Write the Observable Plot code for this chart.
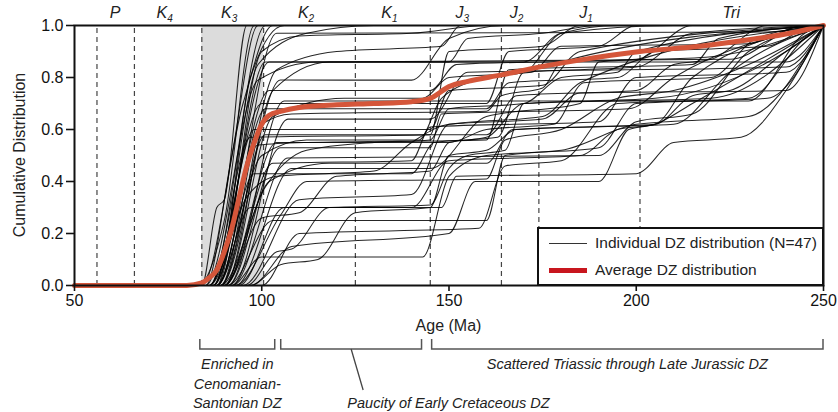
<!DOCTYPE html>
<html><head><meta charset="utf-8">
<script src="https://cdn.jsdelivr.net/npm/d3@7"></script>
<script src="https://cdn.jsdelivr.net/npm/@observablehq/plot@0.6"></script>
<style>
body{margin:0;background:#fff;}
#wrap{position:relative;width:838px;height:412px;font-family:"Liberation Sans",Arial,sans-serif;color:#222;}
#legend{position:absolute;left:537px;top:227px;width:287px;height:59px;box-sizing:border-box;border:2px solid #111;background:#fff;}
.lg-row{position:absolute;left:0;height:20px;width:100%;}
.lg-key{position:absolute;left:10px;width:38px;}
.lg-txt{position:absolute;left:56px;top:0;font-size:15.5px;line-height:20px;white-space:nowrap;color:#222;}
</style>
</head><body>
<div id="wrap"></div>
<script>
// ---------- data ----------
const ageDomain = [50, 250];
const xTicks = [50, 100, 150, 200, 250];
const yTicks = [0, 0.2, 0.4, 0.6, 0.8, 1.0];
const periodEdges = [56, 66, 84, 100.5, 125, 145, 164, 174, 201, 250];
const periodNames = ["P", "K", "K", "K", "K", "J", "J", "J", "Tri"];
const periodSubs  = ["", "4", "3", "2", "1", "3", "2", "1", ""];
const enrichedRange = [84, 100.5];

const averageDZ = [[50,0],[80,0],[84,0.01],[86,0.03],[88,0.06],[90,0.13],[92,0.22],[94,0.34],[96,0.46],[98,0.55],[100,0.62],[102,0.655],[105,0.67],[110,0.685],[120,0.695],[130,0.70],[140,0.707],[145,0.72],[150,0.765],[155,0.785],[164,0.81],[174,0.84],[184,0.865],[201,0.90],[217,0.92],[230,0.945],[241,0.97],[250,1]];

const individualDZ = [
  [[84,0],[88,0.3],[90,0.33],[96,1]],
  [[83,0],[90,0.25],[98,1]],
  [[85,0],[92,0.5],[99,1]],
  [[86,0],[101,1]],
  [[84,0],[95,0.7],[103,1]],
  [[88,0],[97,0.8],[106,1]],
  [[87,0],[99,0.85],[112,0.97],[130,1]],
  [[88,0],[100,0.9],[110,0.96],[140,0.97],[160,1]],
  [[86,0],[102,0.86],[150,0.86],[155,0.95],[175,0.97],[190,1]],
  [[87,0],[101,0.86],[170,0.86],[180,0.97],[210,1]],
  [[89,0],[104,0.83],[120,0.9],[148,0.92],[153,1]],
  [[85,0],[99,0.79],[115,0.86],[240,0.86],[250,1]],
  [[90,0],[103,0.75],[118,0.86],[225,0.87],[245,1]],
  [[88,0],[104,0.97],[235,0.975],[250,1]],
  [[86,0],[100,0.7],[160,0.7],[166,0.9],[190,0.92],[200,1]],
  [[87,0],[102,0.75],[145,0.75],[152,0.85],[200,0.87],[215,1]],
  [[89,0],[105,0.79],[140,0.79],[150,0.95],[165,1]],
  [[90,0],[103,0.65],[122,0.72],[143,0.72],[150,0.8],[172,0.82],[180,0.92],[230,0.93],[245,1]],
  [[88,0],[101,0.68],[160,0.68],[166,0.78],[195,0.8],[205,0.9],[235,0.92],[248,1]],
  [[91,0],[106,0.71],[230,0.71],[245,0.97],[250,1]],
  [[92,0],[107,0.64],[145,0.64],[155,0.82],[240,0.84],[250,1]],
  [[87,0],[98,0.6],[145,0.6],[150,0.75],[175,0.77],[185,0.9],[250,1]],
  [[89,0],[101,0.58],[160,0.58],[168,0.73],[200,0.75],[210,0.85],[220,0.87],[235,1]],
  [[90,0],[104,0.55],[150,0.55],[160,0.6],[178,0.62],[186,0.78],[220,0.8],[232,0.95],[250,1]],
  [[91,0],[105,0.53],[145,0.53],[148,0.66],[198,0.68],[210,0.8],[250,1]],
  [[88,0],[100,0.5],[112,0.56],[142,0.56],[148,0.72],[160,0.8],[170,0.82],[180,0.97],[195,1]],
  [[92,0],[107,0.49],[190,0.5],[200,0.63],[215,0.66],[230,0.9],[250,1]],
  [[88,0],[98,0.43],[140,0.43],[146,0.55],[163,0.57],[170,0.82],[200,0.84],[215,0.97],[250,1]],
  [[90,0],[102,0.4],[118,0.47],[160,0.47],[167,0.6],[205,0.62],[215,0.73],[225,0.75],[240,0.9],[250,1]],
  [[86,0],[96,0.34],[104,0.42],[130,0.44],[140,0.55],[150,0.62],[175,0.64],[185,0.74],[240,0.75],[250,1]],
  [[93,0],[108,0.45],[145,0.45],[160,0.65],[185,0.7],[190,0.86],[220,0.88],[250,1]],
  [[89,0],[101,0.38],[112,0.52],[130,0.55],[145,0.56],[150,0.68],[170,0.7],[180,0.8],[195,0.82],[200,0.9],[250,1]],
  [[88,0],[97,0.3],[140,0.3],[150,0.48],[185,0.5],[195,0.6],[205,0.62],[215,0.8],[250,1]],
  [[90,0],[100,0.26],[110,0.28],[120,0.42],[145,0.44],[150,0.55],[160,0.57],[170,0.7],[205,0.72],[240,0.9],[250,1]],
  [[94,0],[106,0.3],[148,0.3],[152,0.42],[200,0.43],[210,0.55],[228,0.57],[240,0.75],[250,1]],
  [[91,0],[103,0.25],[160,0.25],[165,0.5],[190,0.53],[200,0.7],[235,0.72],[250,1]],
  [[93,0],[105,0.27],[112,0.4],[160,0.41],[165,0.56],[180,0.6],[195,0.72],[210,0.75],[230,0.85],[250,1]],
  [[95,0],[110,0.33],[140,0.35],[150,0.62],[175,0.65],[185,0.78],[250,1]],
  [[92,0],[100,0.11],[143,0.11],[150,0.42],[160,0.5],[180,0.52],[200,0.62],[230,0.65],[250,1]],
  [[96,0],[104,0.13],[108,0.14],[118,0.3],[145,0.31],[150,0.45],[155,0.5],[165,0.52],[170,0.7],[220,0.72],[250,1]],
  [[97,0],[108,0.15],[150,0.2],[157,0.4],[190,0.4],[198,0.6],[205,0.62],[215,0.7],[250,1]],
  [[100,0],[110,0.2],[158,0.22],[165,0.46],[180,0.48],[195,0.7],[230,0.72],[245,0.95],[250,1]],
  [[97,0],[105,0.08],[115,0.1],[125,0.28],[145,0.3],[150,0.5],[160,0.52],[168,0.6],[210,0.62],[225,0.82],[250,1]],
  [[89,0],[100,0.62],[108,0.66],[160,0.67],[164,0.73],[175,0.76],[180,0.86],[250,1]],
  [[87,0],[99,0.54],[112,0.55],[160,0.56],[166,0.83],[215,0.85],[222,0.95],[250,1]],
  [[90,0],[103,0.47],[140,0.48],[145,0.61],[190,0.63],[200,0.8],[240,0.82],[250,1]],
  [[86,0],[97,0.57],[145,0.58],[150,0.9],[175,0.92],[185,1]]
];

const bracketRanges = [[83.6, 103.6], [105.2, 142.8], [145.5, 250]];
const bracketNotes = [
  ["Enriched in", "Cenomanian-", "Santonian DZ"],
  ["Paucity of Early Cretaceous DZ"],
  ["Scattered Triassic through Late Jurassic DZ"]
];
const legendLabels = ["Individual DZ distribution (N=47)", "Average DZ distribution"];

// ---------- build ----------
const rows = individualDZ.flatMap((c, i) => {
  const pts = [[ageDomain[0], 0], ...c];
  if (pts[pts.length - 1][0] < ageDomain[1]) pts.push([ageDomain[1], 1]);
  return pts.map(([a, v]) => ({id: i, age: a, v}));
});
const avgRows = averageDZ.map(([a, v]) => ({age: a, v}));

const FONT = '"Liberation Sans", Arial, sans-serif';
const chart = Plot.plot({
  width: 838, height: 412,
  marginLeft: 74, marginRight: 15, marginTop: 25, marginBottom: 127,
  x: {domain: ageDomain},
  y: {domain: [0, 1]},
  style: {fontFamily: FONT, fontSize: "16px", color: "#111", background: "#fff", overflow: "visible"},
  marks: [
    Plot.rect([enrichedRange], {x1: d => d[0], x2: d => d[1], y1: 0, y2: 1, fill: "#dcdcdc"}),
    Plot.ruleX(periodEdges.slice(0, -1), {y1: 0, y2: 1, stroke: "#444", strokeWidth: 1.2, strokeDasharray: "5,4"}),
    Plot.line(rows, {x: "age", y: "v", z: "id", curve: "monotone-x", stroke: "#000", strokeWidth: 1.05, strokeOpacity: 0.85}),
    Plot.line(avgRows, {x: "age", y: "v", curve: "monotone-x", stroke: "#d5563a", strokeWidth: 5}),
    Plot.axisX({ticks: xTicks, tickSize: 6, tickPadding: 3, label: null, strokeWidth: 1.6, fontSize: 16}),
    Plot.axisY({ticks: yTicks, tickFormat: d3.format(".1f"), tickSize: 8, tickPadding: 3, label: null, strokeWidth: 1.6, fontSize: 16}),
    Plot.frame({stroke: "#111", strokeWidth: 2})
  ]
});
document.getElementById("wrap").appendChild(chart);

const xs = chart.scale("x");
const svg = d3.select(chart);
const g = svg.append("g").attr("font-family", FONT).attr("fill", "#222");

// period labels (top)
periodNames.forEach((name, i) => {
  const mid = (periodEdges[i] + periodEdges[i + 1]) / 2;
  const t = g.append("text").attr("x", xs.apply(mid) - (periodSubs[i] ? 3 : 0)).attr("y", 18)
    .attr("text-anchor", "middle").attr("font-style", "italic").attr("font-size", 16).text(name);
  if (periodSubs[i]) t.append("tspan").attr("dy", 4).attr("font-size", 10).text(periodSubs[i]);
});

// axis titles
g.append("text").attr("transform", "translate(25,155) rotate(-90)").attr("text-anchor", "middle")
  .attr("font-size", 16).text("Cumulative Distribution");
g.append("text").attr("x", xs.apply(150)).attr("y", 331).attr("text-anchor", "middle")
  .attr("font-size", 16).text("Age (Ma)");

// brackets and notes
bracketRanges.forEach(([a, b]) => {
  const x1 = xs.apply(a), x2 = xs.apply(b);
  g.append("path").attr("d", `M${x1},339V349H${x2}V339`).attr("fill", "none")
    .attr("stroke", "#555").attr("stroke-width", 1.5);
});
const c0 = (bracketRanges[0][0] + bracketRanges[0][1]) / 2;
bracketNotes[0].forEach((line, k) => {
  g.append("text").attr("x", xs.apply(c0)).attr("y", 369 + k * 19.5).attr("text-anchor", "middle")
    .attr("font-style", "italic").attr("font-size", 14.5).text(line);
});
const c1 = (bracketRanges[1][0] + bracketRanges[1][1]) / 2;
g.append("line").attr("x1", xs.apply(c1)).attr("y1", 349).attr("x2", xs.apply(c1) + 12).attr("y2", 390)
  .attr("stroke", "#444").attr("stroke-width", 1.3);
g.append("text").attr("x", xs.apply(150)).attr("y", 408).attr("text-anchor", "middle")
  .attr("font-style", "italic").attr("font-size", 14.5).text(bracketNotes[1][0]);
const c2 = (bracketRanges[2][0] + bracketRanges[2][1]) / 2;
g.append("text").attr("x", xs.apply(c2)).attr("y", 369).attr("text-anchor", "middle")
  .attr("font-style", "italic").attr("font-size", 14.5).text(bracketNotes[2][0]);

// legend
const lg = document.createElement("div");
lg.id = "legend";
lg.innerHTML = `
  <div class="lg-row" style="top:4px"><div class="lg-key" style="top:10px;height:0;border-top:1px solid #333"></div><div class="lg-txt">${legendLabels[0]}</div></div>
  <div class="lg-row" style="top:31px"><div class="lg-key" style="top:8px;height:5px;background:#c8161e"></div><div class="lg-txt">${legendLabels[1]}</div></div>`;
document.getElementById("wrap").appendChild(lg);
</script>
</body></html>
